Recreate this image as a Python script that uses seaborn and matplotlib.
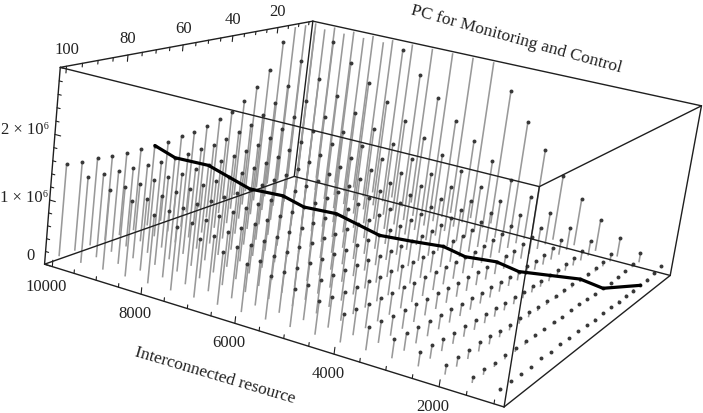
import numpy as np
import matplotlib
matplotlib.use("Agg")
import matplotlib.pyplot as plt
import seaborn as sns
from mpl_toolkits.mplot3d import proj3d

# Sampled grid: interconnected resource by PC share for monitoring and control
resource = [1000, 1500, 2000, 2500, 3000, 3500, 4000, 4500, 5000, 5500,
            6000, 6500, 7000, 7500, 8000, 8500, 9000, 9500, 10000]
pc_share = [5, 10, 15, 20, 25, 30, 35, 40, 45, 50, 55, 60, 65, 70, 75, 80, 85, 90, 95, 100]

# Cost in units of 10^4, one row per resource value, one column per PC share
cost_1000 = [16, 13, 10, 10, 10, 10, 11, 11, 12, 11, 13, 13, 13, 14, 14, 15, 14, 15, 16, 16]
cost_1500 = [29, 18, 15, 14, 13, 13, 13, 14, 15, 15, 15, 17, 16, 17, 18, 19, 19, 19, 21, 21]
cost_2000 = [47, 27, 21, 19, 18, 18, 19, 18, 18, 19, 20, 21, 22, 22, 23, 25, 27, 26, 27, 27]
cost_2500 = [70, 40, 30, 26, 24, 23, 23, 23, 23, 24, 24, 25, 26, 27, 28, 29, 30, 31, 33, 34]
cost_3000 = [98, 53, 40, 34, 30, 29, 28, 28, 28, 29, 30, 30, 31, 32, 34, 35, 36, 37, 39, 41]
cost_3500 = [129, 70, 51, 43, 38, 36, 35, 34, 34, 35, 35, 36, 37, 38, 39, 41, 42, 43, 46, 47]
cost_4000 = [168, 89, 64, 53, 47, 44, 42, 41, 41, 41, 42, 42, 43, 44, 46, 47, 48, 50, 52, 55]
cost_4500 = [210, 111, 79, 65, 57, 52, 50, 48, 48, 48, 48, 49, 50, 51, 52, 54, 55, 57, 58, 62]
cost_5000 = [257, 135, 96, 78, 68, 62, 58, 56, 55, 55, 55, 56, 57, 58, 59, 61, 62, 64, 66, 69]
cost_5500 = [310, 162, 114, 92, 79, 72, 67, 65, 63, 63, 63, 63, 64, 65, 66, 68, 70, 71, 74, 77]
cost_6000 = [368, 191, 134, 107, 92, 83, 77, 74, 72, 71, 71, 71, 72, 73, 74, 76, 77, 79, 81, 85]
cost_6500 = [431, 223, 156, 124, 106, 95, 88, 84, 81, 80, 79, 79, 79, 80, 81, 82, 83, 85, 91, 92]
cost_7000 = [499, 257, 179, 142, 121, 108, 100, 94, 91, 89, 88, 88, 88, 89, 90, 92, 93, 95, 97, 101]
cost_7500 = [571, 294, 204, 161, 136, 121, 112, 105, 101, 99, 97, 97, 97, 98, 99, 100, 102, 104, 107, 109]
cost_8000 = [649, 333, 230, 181, 153, 136, 124, 117, 112, 109, 107, 106, 106, 107, 108, 109, 111, 113, 115, 117]
cost_8500 = [732, 375, 259, 203, 171, 151, 138, 129, 124, 120, 117, 116, 116, 116, 117, 118, 120, 122, 124, 129]
cost_9000 = [820, 419, 288, 226, 190, 167, 152, 142, 136, 131, 128, 126, 126, 126, 126, 128, 129, 131, 133, 136]
cost_9500 = [912, 466, 320, 250, 209, 184, 167, 156, 148, 143, 139, 137, 136, 136, 136, 137, 139, 141, 143, 145]
cost_10000 = [1010, 515, 353, 276, 230, 203, 184, 170, 163, 156, 152, 150, 147, 147, 147, 148, 149, 152, 153, 156]

# Cheapest PC share found at each resource value, lowest resource first
best_pc = [20, 30, 30, 35, 40, 40, 45, 45, 50, 55, 55, 55, 60, 60, 65, 65, 65, 70, 70]

x_major = [2000, 4000, 6000, 8000, 10000]
pc_major = [20, 40, 60, 80, 100]
z_major = [0, 1000000, 2000000]
z_labels = ["0", "1 × 10⁶", "2 × 10⁶"]

sns.set_theme(style="white")
plt.rcParams["font.family"] = ["Liberation Serif", "DejaVu Serif"]
INK = "#1f1f1f"
TEXT = "#222222"

W, H = 703, 414
fig = plt.figure(figsize=(W / 100, H / 100), dpi=100)
ax = fig.add_axes([0, (H - W) / 2 / H, 1, W / H], projection="3d")

x_lo, x_hi = 820, 10180
p_lo, p_hi = 3.1, 101.9
z_lo, z_hi = 0, 3e6
stem_floor = 13e4

ax.set_xlim(x_lo, x_hi)
ax.set_ylim(p_lo, p_hi)
ax.set_zlim(z_lo, z_hi)
ax.view_init(14.765, 114.3225, -7.7765)
ax.set_proj_type("persp", focal_length=0.4399)
ax.set_box_aspect((2.5019, 2.528, 1.0))
ax.computed_zorder = False
ax.set_axis_off()

# Scale of the projected plane inside the square axes
sx, tx = 3663.173, 391.808
sy, ty = -3686.474, 181.477
ax.viewLim.intervalx = ((0 - tx) / sx, (W - tx) / sx)
ax.viewLim.intervaly = (((H + W) / 2 - ty) / sy, ((H - W) / 2 - ty) / sy)

cost = np.array([cost_1000, cost_1500, cost_2000, cost_2500, cost_3000, cost_3500, cost_4000,
                 cost_4500, cost_5000, cost_5500, cost_6000, cost_6500, cost_7000, cost_7500,
                 cost_8000, cost_8500, cost_9000, cost_9500, cost_10000], float) * 1e4
R, P = np.meshgrid(resource, pc_share, indexing="ij")

# Stems stop at the top of the box; points above it get no marker
for r, p, c in zip(R.ravel(), P.ravel(), cost.ravel()):
    ax.plot([r, r], [p, p], [stem_floor, min(c, z_hi)], color="0.6", lw=1.15,
            solid_capstyle="butt", zorder=1)
inside = cost <= z_hi
ax.scatter(R[inside], P[inside], cost[inside], s=8, c="0.22", depthshade=False,
           linewidths=0, zorder=2)

# Box edges
bottom = [(x_hi, p_hi), (x_lo, p_hi), (x_lo, p_lo), (x_hi, p_lo)]
for i in range(4):
    (x0, p0), (x1, p1) = bottom[i], bottom[(i + 1) % 4]
    for z in (z_lo, z_hi):
        ax.plot([x0, x1], [p0, p1], [z, z], color=INK, lw=1.0, zorder=3)
    ax.plot([x0, x0], [p0, p0], [z_lo, z_hi], color=INK, lw=1.0, zorder=3)

# Tick marks along the three labelled edges
for v in resource:
    size = 1.0e5 if v in x_major else 0.55e5
    ax.plot([v, v], [p_hi, p_hi], [z_lo, size], color=INK, lw=0.8, zorder=3)
for v in pc_share:
    size = 1.0e5 if v in pc_major else 0.55e5
    ax.plot([x_hi, x_hi], [v, v], [z_hi, z_hi - size], color=INK, lw=0.8, zorder=3)
for v in np.arange(0, 3.01e6, 2e5):
    size = 130 if v in z_major else 70
    ax.plot([x_hi, x_hi - size], [p_hi, p_hi], [v, v], color=INK, lw=0.8, zorder=3)

# Minimum-cost path across the grid
path_z = [cost[i, pc_share.index(p)] for i, p in enumerate(best_pc)]
ax.plot(resource, best_pc, path_z, color="black", lw=2.3, zorder=4, solid_joinstyle="round")


def edge_label(text, point, offset, **kw):
    u, v, _ = proj3d.proj_transform(*point, ax.get_proj())
    ax.annotate(text, xy=(u, v), xycoords="data", xytext=offset, textcoords="offset pixels",
                fontsize=12, color=TEXT, annotation_clip=False, **kw)


fig.canvas.draw()
for v in x_major:
    edge_label(str(v), (v, p_hi, z_lo), (-6, -19), ha="center", va="center")
for v in pc_major:
    edge_label(str(v), (x_hi, v, z_hi), (0, 17), ha="center", va="center")
for v, t, off in zip(z_major, z_labels, [(-10, 9), (-1, 3), (-6, 5)]):
    edge_label(t, (x_hi, p_hi, v), off, ha="right", va="center")

fig.text(215 / W, 1 - 376 / H, "Interconnected resource", rotation=-16.5, rotation_mode="anchor",
         ha="center", va="center", fontsize=12.5, color=TEXT)
fig.text(516 / W, 1 - 39 / H, "PC for Monitoring and Control", rotation=-15.5, rotation_mode="anchor",
         ha="center", va="center", fontsize=12.6, color=TEXT)

fig.savefig("out.png", dpi=100)
